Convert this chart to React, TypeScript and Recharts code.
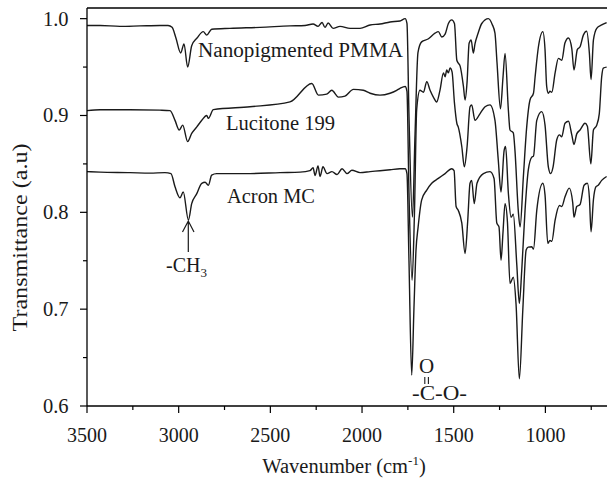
import React from "react"
import { LineChart, Line, XAxis, YAxis, ReferenceLine } from "recharts"

// wavenumber (cm-1) / transmittance pairs
const pmmaWn = [
  3500, 3429, 3320, 3211, 3102, 3058, 3036, 3015, 2989, 2971, 2951, 2929, 2900, 2866, 2847, 2820,
  2720, 2556, 2393, 2311, 2267, 2240, 2218, 2202, 2185, 2158, 2120, 2065, 2011, 1956, 1902, 1847,
  1793, 1765, 1755, 1744, 1725, 1711, 1695, 1675, 1640, 1602, 1584, 1565, 1547, 1529, 1511, 1496,
  1483, 1475, 1465, 1447, 1438, 1427, 1416, 1405, 1393, 1384, 1367, 1347, 1311, 1290, 1275, 1264,
  1245, 1231, 1220, 1202, 1193, 1175, 1166, 1148, 1138, 1120, 1102, 1084, 1065, 1056, 1038, 1014,
  1002, 993, 984, 975, 965, 947, 929, 911, 893, 874, 856, 844, 826, 811, 793, 775, 760, 751, 738,
  720, 693, 666,
]
const pmmaT = [
  0.993, 0.993, 0.992, 0.9925, 0.993, 0.993, 0.991, 0.98, 0.9645, 0.974, 0.95, 0.972, 0.98, 0.9866,
  0.983, 0.989, 0.99, 0.991, 0.9925, 0.993, 0.9945, 0.992, 0.996, 0.991, 0.9955, 0.99, 0.992, 0.99,
  0.99, 0.9935, 0.9945, 0.9966, 0.9976, 1.0, 0.995, 0.9, 0.795, 0.88, 0.965, 0.976, 0.979, 0.985,
  0.9866, 0.981, 0.984, 0.995, 0.9987, 0.995, 0.957, 0.954, 0.951, 0.93, 0.916, 0.935, 0.9746, 0.978,
  0.9645, 0.974, 0.985, 0.995, 1.0, 0.994, 0.985, 0.955, 0.907, 0.94, 0.964, 0.906, 0.885, 0.882,
  0.864, 0.802, 0.785, 0.837, 0.888, 0.916, 0.923, 0.94, 0.971, 0.9866, 0.968, 0.93, 0.923, 0.925,
  0.924, 0.944, 0.959, 0.957, 0.975, 0.98, 0.969, 0.947, 0.968, 0.971, 0.983, 0.987, 0.964, 0.937,
  0.978, 0.99, 0.9935, 0.996,
]

const lucWn = [
  3500, 3429, 3265, 3102, 3047, 3020, 2997, 2978, 2951, 2929, 2902, 2874, 2847, 2838, 2811, 2611,
  2393, 2274, 2238, 2193, 2165, 2129, 2093, 2047, 1993, 1956, 1902, 1847, 1811, 1793, 1765, 1755,
  1744, 1727, 1714, 1702, 1684, 1665, 1647, 1629, 1611, 1593, 1575, 1556, 1547, 1538, 1529, 1520,
  1509, 1496, 1483, 1475, 1456, 1442, 1427, 1411, 1402, 1384, 1356, 1329, 1302, 1275, 1257, 1242,
  1225, 1217, 1202, 1187, 1175, 1156, 1142, 1129, 1111, 1093, 1074, 1065, 1047, 1020, 1002, 984,
  971, 958, 938, 923, 911, 893, 874, 856, 844, 829, 811, 784, 771, 752, 738, 720, 706, 693, 684, 666,
]
const lucT = [
  0.905, 0.906, 0.906, 0.9055, 0.905, 0.895, 0.885, 0.89, 0.873, 0.8815, 0.888, 0.895, 0.9, 0.897,
  0.906, 0.909, 0.914, 0.933, 0.921, 0.922, 0.926, 0.919, 0.92, 0.927, 0.926, 0.923, 0.921, 0.923,
  0.926, 0.928, 0.93, 0.925, 0.82, 0.73, 0.8, 0.906, 0.926, 0.924, 0.935, 0.926, 0.919, 0.914, 0.926,
  0.944, 0.94, 0.947, 0.944, 0.949, 0.945, 0.913, 0.892, 0.888, 0.868, 0.847, 0.868, 0.909, 0.911,
  0.895, 0.902, 0.909, 0.911, 0.895, 0.854, 0.821, 0.864, 0.868, 0.82, 0.795, 0.798, 0.746, 0.706,
  0.74, 0.802, 0.844, 0.857, 0.858, 0.895, 0.904, 0.89, 0.847, 0.84, 0.847, 0.875, 0.88, 0.878,
  0.892, 0.894, 0.88, 0.87, 0.881, 0.885, 0.892, 0.889, 0.85, 0.885, 0.89, 0.902, 0.94, 0.949, 0.95,
]

const acronWn = [
  3500, 3429, 3265, 3156, 3075, 3042, 3020, 2993, 2975, 2947, 2929, 2902, 2874, 2856, 2838, 2820,
  2793, 2611, 2447, 2338, 2284, 2267, 2256, 2240, 2229, 2213, 2191, 2164, 2136, 2109, 2082, 2055,
  2011, 1956, 1902, 1847, 1793, 1765, 1755, 1744, 1729, 1717, 1706, 1694, 1675, 1647, 1620, 1584,
  1547, 1511, 1498, 1487, 1475, 1456, 1438, 1424, 1411, 1402, 1388, 1373, 1338, 1302, 1280, 1265,
  1253, 1242, 1231, 1220, 1207, 1193, 1175, 1160, 1142, 1123, 1105, 1094, 1074, 1065, 1047, 1014,
  1002, 987, 975, 965, 947, 923, 911, 893, 870, 851, 844, 829, 811, 789, 771, 760, 751, 738, 724,
  712, 693, 666,
]
const acronT = [
  0.842, 0.8415, 0.841, 0.8405, 0.841, 0.84, 0.8264, 0.815, 0.821, 0.792, 0.809, 0.819, 0.83, 0.831,
  0.828, 0.8385, 0.84, 0.84, 0.841, 0.8415, 0.843, 0.846, 0.838, 0.848, 0.837, 0.847, 0.84, 0.842,
  0.839, 0.845, 0.84, 0.8435, 0.841, 0.842, 0.843, 0.844, 0.845, 0.845, 0.84, 0.75, 0.632, 0.7, 0.76,
  0.785, 0.8126, 0.823, 0.83, 0.835, 0.84, 0.845, 0.843, 0.806, 0.802, 0.789, 0.7575, 0.79, 0.83,
  0.833, 0.809, 0.83, 0.84, 0.842, 0.835, 0.789, 0.785, 0.7506, 0.78, 0.809, 0.79, 0.7265, 0.733,
  0.705, 0.628, 0.7, 0.761, 0.764, 0.7644, 0.762, 0.802, 0.83, 0.818, 0.768, 0.771, 0.77, 0.792,
  0.807, 0.806, 0.816, 0.825, 0.81, 0.795, 0.806, 0.808, 0.828, 0.83, 0.815, 0.78, 0.813, 0.8265,
  0.828, 0.833, 0.837,
]

const xTicks = [3500, 3250, 3000, 2750, 2500, 2250, 2000, 1750, 1500, 1250, 1000, 750]
const yTicks = [0.6, 0.65, 0.7, 0.75, 0.8, 0.85, 0.9, 0.95, 1.0]
const xMin = 664
const xMax = 3500
const yMin = 0.6
const yMax = 1.011

const toRows = (wn: number[], t: number[]) => wn.map((w, i) => ({ wn: w, t: t[i] }))
const pmmaData = toRows(pmmaWn, pmmaT)
const lucData = toRows(lucWn, lucT)
const acronData = toRows(acronWn, acronT)

const FONT = "'Liberation Serif', 'DejaVu Serif', serif"
const INK = "#1a1a1a"

const isMajor = (v: number, step: number) => Math.abs(v / step - Math.round(v / step)) < 1e-6

const XTick = (props: any) => {
  const { x, y, payload } = props
  const major = isMajor(payload.value, 500)
  return (
    <g>
      <line x1={x} x2={x} y1={y} y2={y + (major ? 7 : 4)} stroke="#000" strokeWidth={1.2} />
      {major && (
        <text x={x} y={y + 36} textAnchor="middle" fontFamily={FONT} fontSize={20} fill={INK}>
          {payload.value}
        </text>
      )}
    </g>
  )
}

const YTick = (props: any) => {
  const { x, y, payload } = props
  const major = isMajor(payload.value, 0.1)
  return (
    <g>
      <line x1={x - (major ? 7 : 4)} x2={x} y1={y} y2={y} stroke="#000" strokeWidth={1.2} />
      {major && (
        <text x={x - 18.5} y={y + 7} textAnchor="end" fontFamily={FONT} fontSize={20.5} fill={INK}>
          {payload.value.toFixed(1)}
        </text>
      )}
    </g>
  )
}

const App: React.FC = () => {
  return (
    <div style={{ position: "absolute", left: 0, top: 0, width: 607, height: 479, background: "#fff" }}>
      <LineChart width={607} height={479} margin={{ top: 8, right: 0, bottom: 33, left: 0 }}>
        <XAxis
          type="number"
          dataKey="wn"
          domain={[xMin, xMax]}
          reversed
          allowDataOverflow
          ticks={xTicks}
          interval={0}
          tickSize={0}
          tickMargin={0}
          tick={<XTick />}
          tickLine={false}
          axisLine={{ stroke: "#000", strokeWidth: 1.3 }}
          height={40}
        />
        <YAxis
          type="number"
          domain={[yMin, yMax]}
          allowDataOverflow
          ticks={yTicks}
          interval={0}
          tickSize={0}
          tickMargin={0}
          tick={<YTick />}
          tickLine={false}
          axisLine={{ stroke: "#000", strokeWidth: 1.3 }}
          width={87}
        />
        <ReferenceLine y={yMax} stroke="#000" strokeWidth={1.3} />
        <Line data={pmmaData} dataKey="t" type="monotone" stroke={INK} strokeWidth={1.4} dot={false} isAnimationActive={false} />
        <Line data={lucData} dataKey="t" type="monotone" stroke={INK} strokeWidth={1.4} dot={false} isAnimationActive={false} />
        <Line data={acronData} dataKey="t" type="monotone" stroke={INK} strokeWidth={1.4} dot={false} isAnimationActive={false} />
      </LineChart>
      <svg
        width={607}
        height={479}
        style={{ position: "absolute", left: 0, top: 0, pointerEvents: "none" }}
        fontFamily={FONT}
        fill={INK}
      >
        <text x={198} y={56.5} fontSize={20} textLength={205} lengthAdjust="spacingAndGlyphs">
          Nanopigmented PMMA
        </text>
        <text x={226} y={130} fontSize={20} textLength={109} lengthAdjust="spacingAndGlyphs">
          Lucitone 199
        </text>
        <text x={227} y={203} fontSize={20} textLength={88} lengthAdjust="spacingAndGlyphs">
          Acron MC
        </text>
        <path d="M188.3 252 L188.3 221 M182.5 232 L188.3 221 L194 232" stroke={INK} strokeWidth={1.2} fill="none" />
        <text x={166} y={272} fontSize={20}>
          -CH<tspan fontSize={13} dy={5}>3</tspan>
        </text>
        <text x={426.5} y={373} fontSize={21} textAnchor="middle">O</text>
        <line x1={424.8} x2={424.8} y1={377} y2={384} stroke={INK} strokeWidth={1.1} />
        <line x1={428.4} x2={428.4} y1={377} y2={384} stroke={INK} strokeWidth={1.1} />
        <text x={412} y={400} fontSize={20} textLength={55} lengthAdjust="spacingAndGlyphs">
          -C-O-
        </text>
        <text
          x={26.5}
          y={237.5}
          fontSize={20}
          textAnchor="middle"
          textLength={188}
          lengthAdjust="spacingAndGlyphs"
          transform="rotate(-90 26.5 237.5)"
        >
          Transmittance (a.u)
        </text>
        <text x={344} y={473} fontSize={20.5} textAnchor="middle">
          Wavenumber (cm<tspan fontSize={13} dy={-8}>-1</tspan>
          <tspan dy={8}>)</tspan>
        </text>
      </svg>
    </div>
  )
}

export default App
